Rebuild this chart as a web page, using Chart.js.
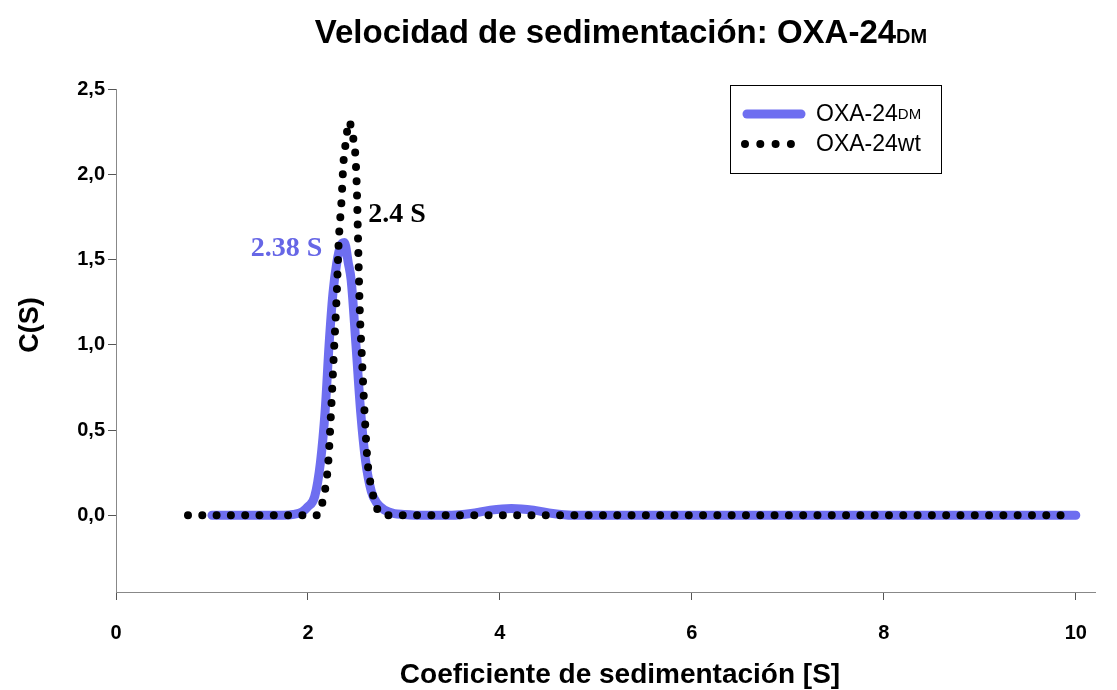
<!DOCTYPE html>
<html>
<head>
<meta charset="utf-8">
<title>Velocidad de sedimentación</title>
<script src="https://cdn.jsdelivr.net/npm/chart.js@4"></script>
<style>
  body { margin: 0; background: #fff; }
  #c { display: block; }
</style>
</head>
<body>
<canvas id="c" width="1117" height="690"></canvas>
<script>
// sedimentation coefficient (S) and c(S) for the double mutant
var dmS = [1.0, 1.25, 1.5, 1.75, 1.85, 1.94, 2.00, 2.07, 2.13, 2.18, 2.22, 2.26, 2.30, 2.34, 2.38, 2.42, 2.45, 2.50, 2.55, 2.60, 2.66, 2.72, 2.80, 2.90, 3.0, 3.2, 3.5, 3.7, 3.9, 4.12, 4.35, 4.55, 4.75, 5.0, 5.5, 6.0, 6.5, 7.0, 7.5, 8.0, 8.5, 9.0, 9.5, 10.0];
var dmC = [0, 0, 0, 0, 0.005, 0.02, 0.05, 0.11, 0.31, 0.62, 1.0, 1.30, 1.48, 1.58, 1.60, 1.48, 1.38, 1.0, 0.60, 0.32, 0.14, 0.07, 0.03, 0.01, 0.005, 0, 0, 0.01, 0.03, 0.04, 0.03, 0.01, 0, 0, 0, 0, 0, 0, 0, 0, 0, 0, 0, 0];

// wild type
var wtS = [0.75, 1.0, 1.25, 1.5, 1.75, 2.0, 2.09, 2.16, 2.21, 2.24, 2.27, 2.30, 2.32, 2.35, 2.37, 2.39, 2.43, 2.46, 2.49, 2.50, 2.51, 2.52, 2.53, 2.54, 2.56, 2.59, 2.62, 2.67, 2.70, 2.75, 2.80, 3.0, 3.5, 4.0, 4.5, 5.0, 5.5, 6.0, 6.5, 7.0, 7.5, 8.0, 8.5, 9.0, 9.5, 9.85];
var wtC = [0, 0, 0, 0, 0, 0, 0, 0.10, 0.30, 0.60, 0.95, 1.30, 1.60, 1.85, 2.07, 2.17, 2.31, 2.24, 2.14, 2.05, 1.90, 1.66, 1.42, 1.20, 0.95, 0.60, 0.32, 0.14, 0.07, 0.01, 0, 0, 0, 0, 0, 0, 0, 0, 0, 0, 0, 0, 0, 0, 0, 0];

var seriesNames = ['OXA-24', 'OXA-24'];
var seriesSubs = ['DM', 'wt'];
var peakLabels = ['2.38 S', '2.4 S'];
var xTicks = [0, 2, 4, 6, 8, 10];
var yTicks = [0, 0.5, 1.0, 1.5, 2.0, 2.5];

var blue = '#6e6ef0';
var sans = '"Liberation Sans", Arial, sans-serif';
var serif = '"Liberation Serif", "Times New Roman", serif';

function pts(xs, ys) {
  var out = [];
  for (var i = 0; i < xs.length; i++) out.push({x: xs[i], y: ys[i]});
  return out;
}

function peakOf(xs, ys) {
  var k = 0;
  for (var i = 1; i < ys.length; i++) if (ys[i] > ys[k]) k = i;
  return {x: xs[k], y: ys[k]};
}

// draws "OXA-24" followed by a smaller suffix on the same baseline
function twoPart(ctx, x, y, main, sub, bigFont, smallFont) {
  ctx.font = bigFont;
  ctx.fillText(main, x, y);
  var w = ctx.measureText(main).width;
  ctx.font = smallFont;
  ctx.fillText(sub, x + w, y);
}

var textLayer = {
  id: 'textLayer',
  afterDraw: function (chart) {
    var ctx = chart.ctx;
    var xs = chart.scales.x, ys = chart.scales.y;
    ctx.save();
    ctx.fillStyle = '#000';
    ctx.textBaseline = 'alphabetic';
    ctx.textAlign = 'left';

    // title
    var tMain = 'Velocidad de sedimentación: OXA-24';
    ctx.font = 'bold 33px ' + sans;
    var w1 = ctx.measureText(tMain).width;
    ctx.font = 'bold 20px ' + sans;
    var w2 = ctx.measureText('DM').width;
    twoPart(ctx, 621 - (w1 + w2) / 2, 43, tMain, 'DM', 'bold 33px ' + sans, 'bold 20px ' + sans);

    // axis titles
    ctx.textAlign = 'center';
    ctx.textBaseline = 'middle';
    ctx.font = 'bold 28px ' + sans;
    ctx.fillText('Coeficiente de sedimentación [S]', 620, 675);
    ctx.save();
    ctx.translate(31, 325);
    ctx.rotate(-Math.PI / 2);
    ctx.font = 'bold 27px ' + sans;
    ctx.fillText('C(S)', 0, 0);
    ctx.restore();

    // peak labels
    var p0 = peakOf(dmS, dmC), p1 = peakOf(wtS, wtC);
    ctx.font = 'bold 28px ' + serif;
    ctx.textAlign = 'right';
    ctx.fillStyle = '#6666e6';
    ctx.fillText(peakLabels[0], xs.getPixelForValue(p0.x) - 22, ys.getPixelForValue(p0.y) + 6);
    ctx.textAlign = 'left';
    ctx.fillStyle = '#000';
    ctx.fillText(peakLabels[1], xs.getPixelForValue(p1.x) + 19, ys.getPixelForValue(p1.y) + 93);

    // legend
    ctx.lineWidth = 1;
    ctx.strokeStyle = '#000';
    ctx.strokeRect(730.5, 85.5, 211, 88);
    ctx.lineCap = 'round';
    ctx.strokeStyle = blue;
    ctx.lineWidth = 9;
    ctx.beginPath();
    ctx.moveTo(747, 114);
    ctx.lineTo(801, 114);
    ctx.stroke();
    ctx.strokeStyle = '#000';
    ctx.lineWidth = 8;
    ctx.setLineDash([0, 15.3]);
    ctx.beginPath();
    ctx.moveTo(745, 144);
    ctx.lineTo(793, 144);
    ctx.stroke();
    ctx.setLineDash([]);
    ctx.textBaseline = 'middle';
    ctx.fillStyle = '#000';
    twoPart(ctx, 816, 115, seriesNames[0], seriesSubs[0], '23px ' + sans, '15px ' + sans);
    twoPart(ctx, 816, 145, seriesNames[1] + seriesSubs[1], '', '23px ' + sans, '15px ' + sans);
    ctx.restore();
  }
};

var ctx = document.getElementById('c').getContext('2d');
var chart = new Chart(ctx, {
  type: 'line',
  data: {
    datasets: [
      {
        label: seriesNames[1] + seriesSubs[1],
        data: pts(wtS, wtC),
        borderColor: '#000',
        borderWidth: 8,
        borderDash: [0, 14.3],
        borderCapStyle: 'round',
        pointRadius: 0,
        cubicInterpolationMode: 'monotone',
        fill: false,
        order: 0
      },
      {
        label: seriesNames[0] + seriesSubs[0],
        data: pts(dmS, dmC),
        borderColor: blue,
        borderWidth: 9,
        borderCapStyle: 'round',
        borderJoinStyle: 'round',
        pointRadius: 0,
        cubicInterpolationMode: 'monotone',
        fill: false,
        order: 1
      }
    ]
  },
  options: {
    responsive: false,
    animation: false,
    layout: { padding: { top: 89, right: 22, left: 0, bottom: 0 } },
    plugins: { legend: { display: false }, tooltip: { enabled: false }, title: { display: false } },
    scales: {
      x: {
        type: 'linear',
        min: 0,
        max: 10.2,
        afterFit: function (s) { s.height = 98; },
        afterBuildTicks: function (s) { s.ticks = xTicks.map(function (v) { return {value: v}; }); },
        grid: { drawOnChartArea: false, tickLength: 8, color: '#555' },
        border: { color: '#888', width: 1 },
        ticks: {
          color: '#000',
          padding: 21,
          maxRotation: 0,
          font: { family: sans, size: 20, weight: 'bold' },
          callback: function (v) { return String(v); }
        }
      },
      y: {
        min: -0.45,
        max: 2.5,
        afterFit: function (s) { s.width = 116; },
        afterBuildTicks: function (s) { s.ticks = yTicks.map(function (v) { return {value: v}; }); },
        grid: { drawOnChartArea: false, tickLength: 8, color: '#555' },
        border: { color: '#888', width: 1 },
        ticks: {
          color: '#000',
          padding: 3,
          font: { family: sans, size: 20, weight: 'bold' },
          callback: function (v) { return v.toFixed(1).replace('.', ','); }
        }
      }
    }
  },
  plugins: [textLayer]
});
</script>
</body>
</html>
